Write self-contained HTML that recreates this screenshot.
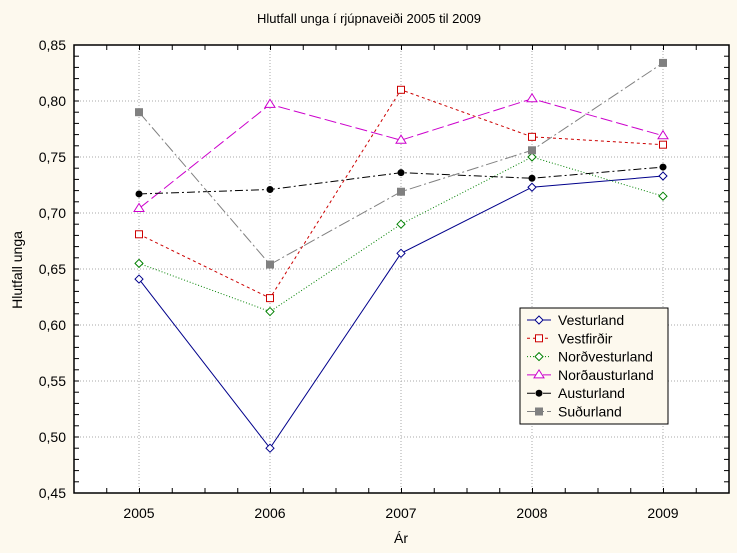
<!DOCTYPE html>
<html><head><meta charset="utf-8"><style>
body{margin:0;background:#fdf9ee;}
svg{display:block;font-family:"Liberation Sans",sans-serif;}
</style></head><body>
<svg id="s" width="737" height="553" xmlns="http://www.w3.org/2000/svg">
<rect width="737" height="553" fill="#fdf9ee"/>
<rect x="74" y="45" width="655" height="448" fill="#fff"/>
<g id="g"></g>
<rect x="74" y="45" width="655" height="448" fill="none" stroke="#000" stroke-width="1.5"/>
<text x="369" y="23" font-size="13" text-anchor="middle" fill="#000">Hlutfall unga í rjúpnaveiði 2005 til 2009</text>
<text x="401" y="543" font-size="14" text-anchor="middle">Ár</text>
<text transform="translate(22,270) rotate(-90)" font-size="14" text-anchor="middle">Hlutfall unga</text>
<rect x="520" y="308" width="148" height="116" fill="#fdf9ee" stroke="#000" stroke-width="1"/>
<g id="lg"></g>
</svg>
<script>
const g=document.getElementById('g');let h='',L='';
const X=i=>139+131*i, Y=v=>45+(0.85-v)*1120;
for(let k=0;k<=8;k++){const v=0.85-0.05*k,y=Y(v);
 if(k>0&&k<8)h+=`<line x1="74" x2="729" y1="${y}" y2="${y}" stroke="#aaa" stroke-dasharray="1,2"/>`;
 h+=`<text x="66" y="${y+5}" font-size="14" text-anchor="end">${v.toFixed(2).replace('.',',')}</text>`;}
for(let i=0;i<5;i++){h+=`<line x1="${X(i)}" x2="${X(i)}" y1="45" y2="493" stroke="#aaa" stroke-dasharray="1,2"/>`;
 h+=`<text x="${X(i)}" y="518" font-size="14" text-anchor="middle">${2005+i}</text>`;}
for(let x=74+32.75;x<729;x+=32.75){h+=`<line x1="${x}" x2="${x}" y1="45" y2="50" stroke="#000"/><line x1="${x}" x2="${x}" y1="493" y2="488" stroke="#000"/>`;}
for(let y=45+11.2;y<493;y+=11.2){h+=`<line x1="74" x2="79" y1="${y}" y2="${y}" stroke="#000"/><line x1="729" x2="724" y1="${y}" y2="${y}" stroke="#000"/>`;}
const S=[
["Vesturland","#00008b","",[0.641,0.490,0.664,0.723,0.733],"d"],
["Vestfirðir","#cc0000","3,3",[0.681,0.624,0.810,0.768,0.761],"s"],
["Norðvesturland","#008000","1,2",[0.655,0.612,0.690,0.750,0.715],"d"],
["Norðausturland","#cc00cc","12,4",[0.704,0.797,0.765,0.802,0.769],"t"],
["Austurland","#000","8,3,2,3",[0.717,0.721,0.736,0.731,0.741],"c"],
["Suðurland","#808080","12,3,2,3",[0.790,0.654,0.719,0.756,0.834],"f"]];
function mk(t,c,x,y){
 if(t=="d")return `<polygon points="${x},${y-4} ${x+4},${y} ${x},${y+4} ${x-4},${y}" fill="#fff" stroke="${c}"/>`;
 if(t=="s")return `<rect x="${x-3.5}" y="${y-3.5}" width="7" height="7" fill="#fff" stroke="${c}"/>`;
 if(t=="t")return `<polygon points="${x},${y-5} ${x+5},${y+3} ${x-5},${y+3}" fill="#fff" stroke="${c}"/>`;
 if(t=="c")return `<circle cx="${x}" cy="${y}" r="3.5" fill="#000"/>`;
 return `<rect x="${x-4}" y="${y-4}" width="8" height="8" fill="#808080"/>`;}
S.forEach((s,j)=>{const p=s[3].map((v,i)=>X(i)+','+Y(v)).join(' ');
 h+=`<polyline points="${p}" fill="none" stroke="${s[1]}" stroke-dasharray="${s[2]}"/>`;
 s[3].forEach((v,i)=>h+=mk(s[4],s[1],X(i),Y(v)));
 const ly=320+18.3*j;
 L+=`<line x1="527" x2="551" y1="${ly}" y2="${ly}" stroke="${s[1]}" stroke-dasharray="${s[2]}"/>`+mk(s[4],s[1],539,ly);
 L+=`<text x="558" y="${ly+5}" font-size="14">${s[0]}</text>`;});
g.innerHTML=h;
document.getElementById('lg').innerHTML=L;
</script>
</body></html>
